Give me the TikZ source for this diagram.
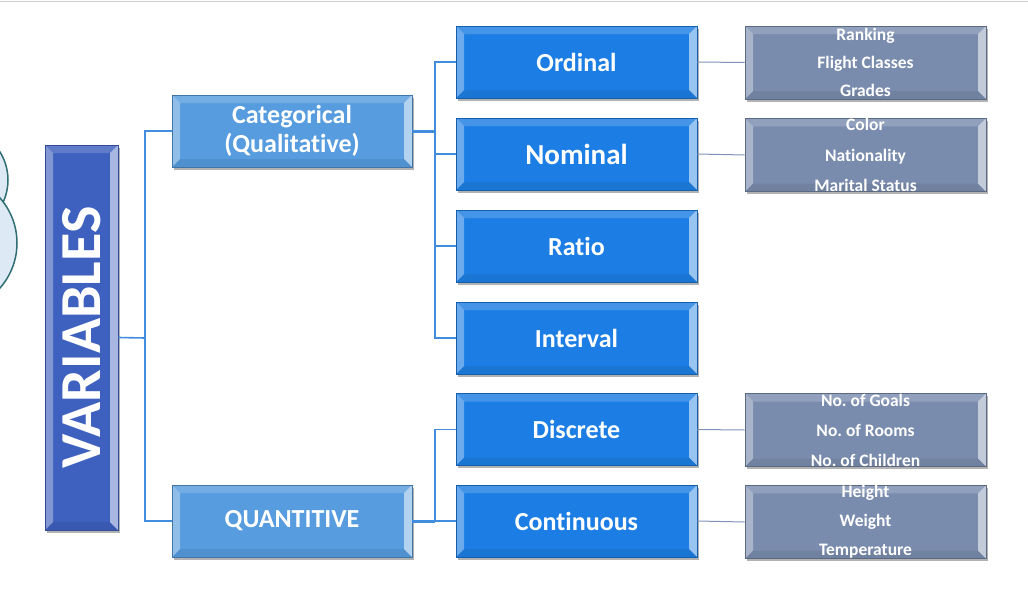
\documentclass[tikz,border=0pt]{standalone}
\usepackage{fontspec}
\setmainfont{Carlito}[Ligatures={NoCommon}]
\frenchspacing
\usetikzlibrary{shadows}
\definecolor{varblue}{RGB}{62,96,190}
\definecolor{catblue}{RGB}{86,156,222}
\definecolor{subblue}{RGB}{28,126,228}
\definecolor{slate}{RGB}{122,140,174}
\definecolor{conncol}{RGB}{66,142,222}
\definecolor{thinconn}{RGB}{128,146,182}
\definecolor{circfill}{RGB}{222,233,246}
\definecolor{circline}{RGB}{47,110,115}
\tikzset{
  bevel/.style={path picture={
    \fill[white,opacity=0.35] (path picture bounding box.north west) -- (path picture bounding box.south west)
      -- ([xshift=#1,yshift=#1]path picture bounding box.south west) -- ([xshift=#1,yshift=-#1]path picture bounding box.north west) -- cycle;
    \fill[white,opacity=0.55] (path picture bounding box.north east) -- (path picture bounding box.south east)
      -- ([xshift=-#1,yshift=#1]path picture bounding box.south east) -- ([xshift=-#1,yshift=-#1]path picture bounding box.north east) -- cycle;
    \fill[white,opacity=0.18] (path picture bounding box.north west) -- (path picture bounding box.north east)
      -- ([xshift=-#1,yshift=-#1]path picture bounding box.north east) -- ([xshift=#1,yshift=-#1]path picture bounding box.north west) -- cycle;
    \fill[black,opacity=0.07] (path picture bounding box.south west) -- (path picture bounding box.south east)
      -- ([xshift=-#1,yshift=#1]path picture bounding box.south east) -- ([xshift=#1,yshift=#1]path picture bounding box.south west) -- cycle;
  }},
  boxbase/.style={rectangle, inner sep=0pt, text=white, align=center,
    font=\bfseries, drop shadow={shadow xshift=2pt,shadow yshift=-2.5pt,opacity=0.3,fill=black}},
  varbox/.style={boxbase, fill=varblue, draw=varblue!80!black, line width=0.8pt,
    minimum width=73pt, minimum height=385pt, bevel=8pt},
  catbox/.style={boxbase, fill=catblue, draw=catblue!75!black, line width=0.8pt,
    minimum width=240pt, minimum height=72pt, bevel=8pt, font=\bfseries\fontsize{26}{29}\selectfont},
  subbox/.style={boxbase, fill=subblue, draw=subblue!75!black, line width=0.8pt,
    minimum width=241pt, minimum height=72pt, bevel=8pt, font=\bfseries\fontsize{26}{30}\selectfont},
  exbox/.style={boxbase, fill=slate, draw=slate!75!black, line width=0.8pt,
    minimum width=241pt, minimum height=73pt, bevel=8pt},
  conn/.style={draw=conncol, line width=1.6pt},
  thickconn/.style={draw=conncol, line width=3pt},
  thinline/.style={draw=thinconn, line width=1pt},
}
\begin{document}
\begin{tikzpicture}[x=1pt,y=-1pt]
\useasboundingbox (0,0) rectangle (1028,597);
\fill[white] (0,0) rectangle (1028,597);
\draw[black!20, line width=1.5pt] (0,1.5) -- (1028,1.5);
% partial circles at the left edge
\begin{scope}
  \clip (0,0) rectangle (1028,597);
  \filldraw[fill=circfill, draw=circline, line width=1.5pt] (-45,180) circle (53);
  \filldraw[fill=circfill, draw=circline, line width=1.5pt] (-51,243) circle (68);
\end{scope}
% junctions
\coordinate (j1) at (145,338);
\coordinate (j2) at (435,131);
\coordinate (j3) at (435,521);
% nodes
\node[varbox] (var) at (81.5,337.5) {\rotatebox{90}{\fontsize{58}{60}\selectfont VARIABLES}};
\node[catbox] (cat) at (292,131) {Categorical\\(Qualitative)};
\node[catbox] (quan) at (292,521) {QUANTITIVE};
\node[subbox] (ord) at (576.5,62) {Ordinal};
\node[subbox, font=\bfseries\fontsize{29}{32}\selectfont] (nom) at (576.5,154) {Nominal};
\node[subbox] (rat) at (576.5,246) {Ratio};
\node[subbox] (int) at (576.5,338) {Interval};
\node[subbox] (dis) at (576.5,429.5) {Discrete};
\node[subbox] (con) at (576.5,521) {Continuous};
\node[exbox, font=\bfseries\fontsize{17.5}{28}\selectfont] (ordx) at (865.5,62.5) {Ranking\\Flight Classes\\Grades};
\node[exbox, font=\bfseries\fontsize{17.5}{30.5}\selectfont] (nomx) at (865.5,155) {Color\\Nationality\\Marital Status};
\node[exbox, font=\bfseries\fontsize{17.5}{30}\selectfont] (disx) at (865.5,430) {No. of Goals\\No. of Rooms\\No. of Children};
\node[exbox, font=\bfseries\fontsize{17.5}{29}\selectfont] (conx) at (865.5,522) {Height\\Weight\\Temperature};
% connectors
\draw[conn] (var.east) -- (j1);
\draw[conn] (cat.west) -| (j1);
\draw[conn] (quan.west) -| (j1);
\draw[thickconn] (cat.east) -- (j2);
\draw[conn] (ord.west) -| (j2);
\draw[conn] (nom.west) -| (j2);
\draw[conn] (rat.west) -| (j2);
\draw[conn] (int.west) -| (j2);
\draw[thickconn] (quan.east) -- (j3);
\draw[conn] (dis.west) -| (j3);
\draw[conn] (con.west) -- (j3);
\draw[thinline] (ord.east) -- (ordx.west);
\draw[thinline] (nom.east) -- (nomx.west);
\draw[thinline] (dis.east) -- (disx.west);
\draw[thinline] (con.east) -- (conx.west);
\end{tikzpicture}
\end{document}
